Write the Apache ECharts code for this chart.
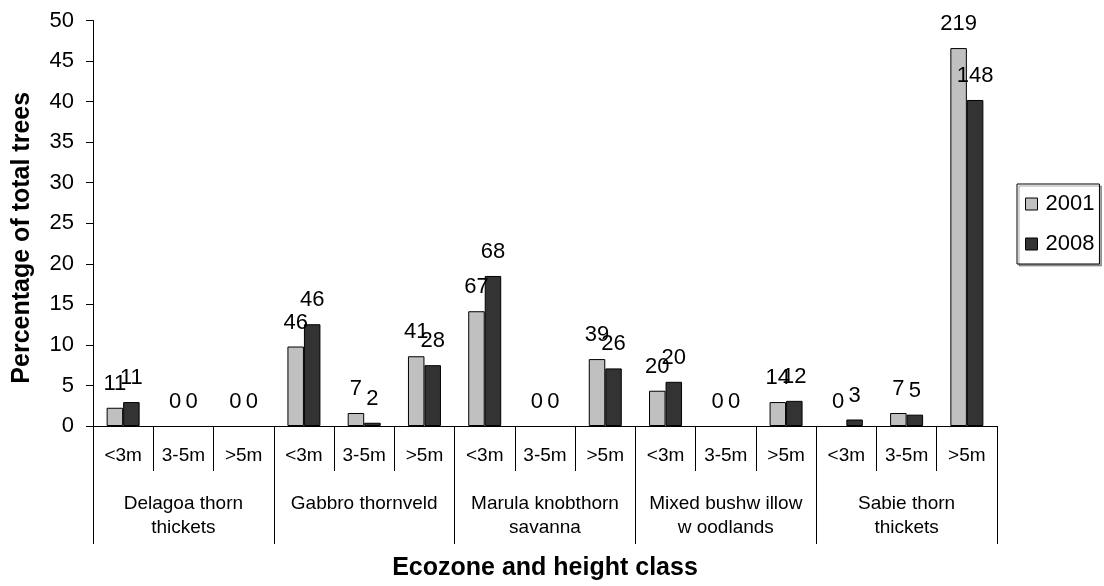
<!DOCTYPE html>
<html>
<head>
<meta charset="utf-8">
<script src="https://cdn.jsdelivr.net/npm/echarts@6/dist/echarts.min.js"></script>
<style>
html,body{margin:0;padding:0;background:#fff;}
#chart{width:1104px;height:586px;}
</style>
</head>
<body>
<div id="chart"></div>
<script>
// ---- data ----
var heightClasses = ['<3m','3-5m','>5m','<3m','3-5m','>5m','<3m','3-5m','>5m','<3m','3-5m','>5m','<3m','3-5m','>5m'];
var ecozones = ['Delagoa thorn\nthickets','Gabbro thornveld','Marula knobthorn\nsavanna','Mixed bushw illow\nw oodlands','Sabie thorn\nthickets'];
var seriesNames = ['2001','2008'];
var pct2001 = [2.25,0,0,9.8,1.6,8.6,14.15,0,8.25,4.35,0,2.95,0,1.6,46.6];
var pct2008 = [2.95,0,0,12.55,0.4,7.5,18.5,0,7.1,5.45,0,3.1,0.8,1.4,40.2];
var count2001 = [11,0,0,46,7,41,67,0,39,20,0,14,0,7,219];
var count2008 = [11,0,0,46,2,28,68,0,26,20,0,12,3,5,148];
var yTicks = {min:0, max:50, interval:5};

var FONT = "'Liberation Sans', Arial, Helvetica, sans-serif";
var COLORS = ['#c0c0c0', '#333333'];
var chart = echarts.init(document.getElementById('chart'), null, {renderer:'canvas'});

function barSeries(name, values, counts, color){
  // zero-height bars draw no outline (as in the reference)
  var data = values.map(function(v){
    return v === 0 ? {value: v, itemStyle: {borderWidth: 0, color: 'rgba(0,0,0,0)'}} : v;
  });
  return {
    name: name,
    type: 'bar',
    xAxisIndex: 0,
    data: data,
    barWidth: 16.5,
    barGap: '0%',
    itemStyle: {color: color, borderColor: '#000', borderWidth: 1},
    label: {
      show: true,
      position: 'top',
      distance: 13,
      fontSize: 22,
      fontFamily: FONT,
      color: '#000',
      formatter: function(p){ return String(counts[p.dataIndex]); }
    },
    animation: false
  };
}

chart.setOption({
  backgroundColor: '#fff',
  animation: false,
  textStyle: {fontFamily: FONT},
  grid: {left: 93, right: 107, top: 20.5, bottom: 158, containLabel: false},
  legend: {
    orient: 'vertical',
    left: 1017, top: 184,
    icon: 'rect',
    data: seriesNames.map(function(n, i){ return {name: n, icon: 'rect', itemStyle: {color: COLORS[i], borderColor: '#000', borderWidth: 1}}; }),
    itemWidth: 12, itemHeight: 12,
    itemGap: 18,
    padding: [9, 5, 9, 8],
    borderColor: '#000', borderWidth: 1,
    shadowColor: 'rgba(0,0,0,0.35)', shadowBlur: 0, shadowOffsetX: 2, shadowOffsetY: 2,
    backgroundColor: '#fff',
    textStyle: {fontSize: 22, fontFamily: FONT, color: '#000', padding: [0,0,0,3]}
  },
  xAxis: [
    {
      type: 'category',
      data: heightClasses,
      position: 'bottom',
      boundaryGap: true,
      axisLine: {show: true, lineStyle: {color: '#000', width: 1}},
      axisTick: {show: true, interval: 0, length: 45, lineStyle: {color: '#000'}},
      axisLabel: {interval: 0, margin: 20, fontSize: 19, fontFamily: FONT, color: '#000'},
      splitLine: {show: false}
    },
    {
      type: 'category',
      data: ecozones,
      position: 'bottom',
      boundaryGap: true,
      axisLine: {show: true, lineStyle: {color: '#000', width: 1}},
      axisTick: {show: true, interval: 0, length: 118, lineStyle: {color: '#000'}},
      axisLabel: {interval: 0, margin: 66, fontSize: 19, lineHeight: 24, fontFamily: FONT, color: '#000', align: 'center'},
      splitLine: {show: false},
      name: 'Ecozone and height class',
      nameLocation: 'middle',
      nameGap: 130,
      nameTextStyle: {fontSize: 25, fontWeight: 'bold', fontFamily: FONT, color: '#000'}
    }
  ],
  yAxis: {
    type: 'value',
    min: yTicks.min, max: yTicks.max, interval: yTicks.interval,
    axisLine: {show: true, lineStyle: {color: '#000', width: 1}},
    axisTick: {show: true, length: 7, lineStyle: {color: '#000'}},
    axisLabel: {margin: 19, fontSize: 22, fontFamily: FONT, color: '#000'},
    splitLine: {show: false},
    name: 'Percentage of total trees',
    nameLocation: 'middle',
    nameRotate: 90,
    nameGap: 58,
    nameTextStyle: {fontSize: 25, fontWeight: 'bold', fontFamily: FONT, color: '#000', padding: [0, 29, 0, 0]}
  },
  series: [
    barSeries(seriesNames[0], pct2001, count2001, COLORS[0]),
    barSeries(seriesNames[1], pct2008, count2008, COLORS[1])
  ]
});
</script>
</body>
</html>
